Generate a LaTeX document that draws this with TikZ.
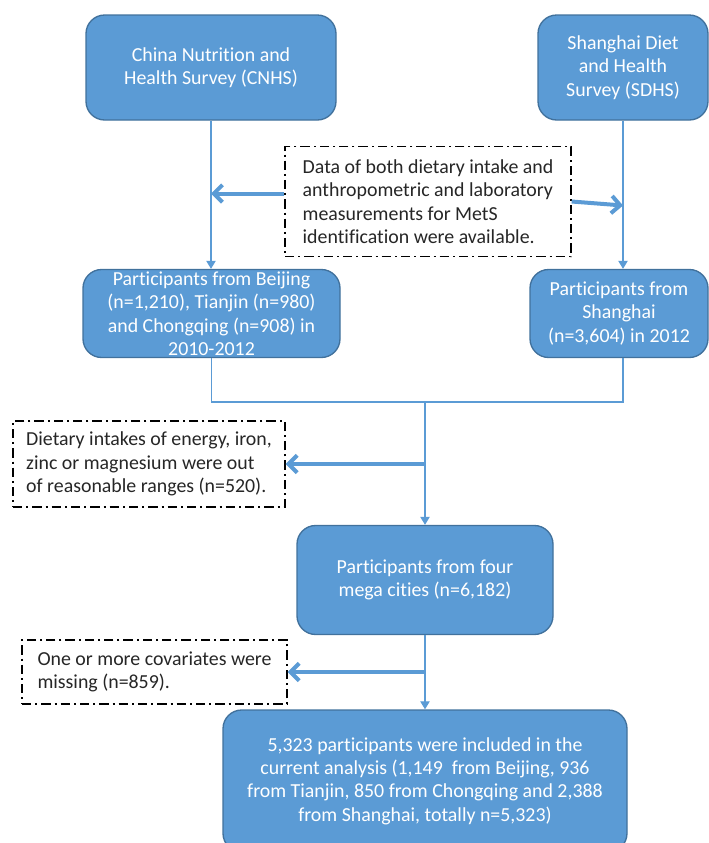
\documentclass[tikz,border=0pt]{standalone}
\usepackage{fontspec}
\setmainfont{Carlito}[Ligatures=NoCommon]
\usetikzlibrary{arrows.meta,positioning}

\definecolor{boxblue}{HTML}{5B9BD5}
\definecolor{boxedge}{HTML}{41719C}
\definecolor{linkblue}{HTML}{5B9BD5}

\begin{document}
\begin{tikzpicture}[
		x=0.75pt, y=-0.75pt,
		font=\fontsize{14.9}{17.6}\selectfont,
		bluebox/.style={draw=boxedge, fill=boxblue, line width=1pt, rounded corners=14pt, text=white, align=center, inner sep=0pt},
		note/.style={draw=black, line width=1pt, dash pattern=on 7pt off 3pt on 1.5pt off 3pt, align=left, inner sep=0pt, text=black!85},
		link/.style={draw=linkblue, line width=0.9pt},
		down/.style={link, -{Triangle[width=7pt,length=6pt]}},
		side/.style={draw=linkblue, line width=3pt, -{Straight Barb[length=6.5pt,width=13pt]}}
		]
		
		\useasboundingbox (0,0) rectangle (708,843);
		
		% sources
		\node[bluebox, minimum width=187.5pt, minimum height=78.75pt] (cnhs) at (211,67.5) {
			China Nutrition and\\
			Health Survey (CNHS)
		};
		
		\node[bluebox, minimum width=127.5pt, minimum height=78.75pt] (sdhs) at (623,67.5) {
			Shanghai Diet\\
			and Health\\
			Survey (SDHS)
		};
		
		\node[note, minimum width=214.5pt, minimum height=82.5pt] (data) at (428,201.5) {
			Data of both dietary intake and\\
			anthropometric and laboratory\\
			measurements for MetS\\
			identification were available.
		};
		
		\node[bluebox, minimum width=192.75pt, minimum height=66pt] (bj) at (211.5,313.5) {
			Participants from Beijing\\
			(n=1,210), Tianjin (n=980)\\
			and Chongqing (n=908) in\\
			2010-2012
		};
		
		\node[bluebox, minimum width=133.5pt, minimum height=66pt] (sh) at (619,313.5) {
			Participants from\\
			Shanghai\\
			(n=3,604) in 2012
		};
		
		% exclusions and merged sample
		\node[note, minimum width=204pt, minimum height=64.5pt] (diet) at (149,464) {
			Dietary intakes of energy, iron,\\
			zinc or magnesium were out\\
			of reasonable ranges (n=520).
		};
		
		\node[bluebox, minimum width=192pt, minimum height=81.75pt] (four) at (425,580) {
			Participants from four\\
			mega cities (n=6,182)
		};
		
		\node[note, minimum width=198.75pt, minimum height=48pt] (miss) at (154.5,672) {
			One or more covariates were\\
			missing (n=859).
		};
		
		\node[bluebox, minimum width=303pt, minimum height=106.5pt] (final) at (425,781) {
			5,323 participants were included in the\\
			current analysis (1,149~ from Beijing, 936\\
			from Tianjin, 850 from Chongqing and 2,388\\
			from Shanghai, totally n=5,323)
		};
		
		\coordinate (merge) at (425,402);
		
		\draw[down] (cnhs.south) -- (cnhs.south |- bj.north);
		\draw[down] (sdhs.south) -- (sdhs.south |- sh.north);
		\draw[side] ([yshift=6pt]data.west) -- ([yshift=6pt]data.west -| cnhs.south);
		\draw[side] (data.east) -- ([yshift=-3pt]data.east -| sdhs.south);
		\draw[link] (bj.south) |- (merge) -| (sdhs.south |- sh.south);
		\draw[down] (merge) -- (four.north);
		\draw[side] (merge |- diet.east) -- (diet.east);
		\draw[down] (four.south) -- (final.north);
		\draw[side] (four.south |- miss.east) -- (miss.east);
		
	\end{tikzpicture}
\end{document}
